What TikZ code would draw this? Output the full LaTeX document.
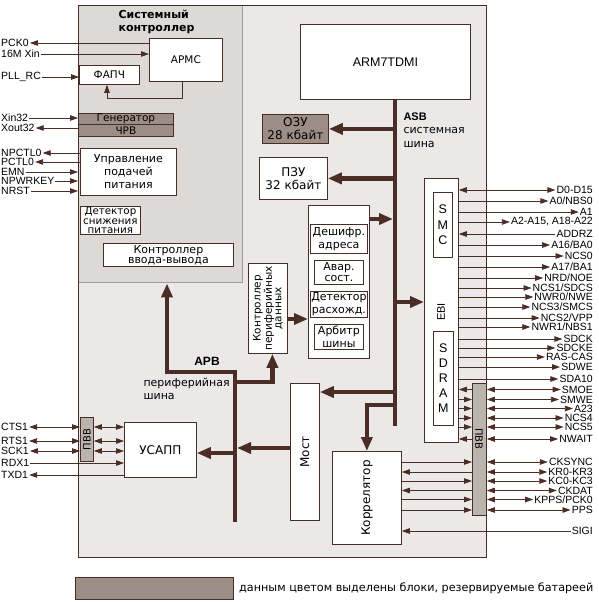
\documentclass[tikz,border=0pt]{standalone}
\usepackage{fontspec}
\setmainfont{Liberation Sans}
\newfontfamily\rufont{DejaVu Sans}
\usetikzlibrary{arrows.meta,positioning}
\definecolor{lnc}{HTML}{4A2E25}
\definecolor{chipc}{HTML}{EBE8E8}
\definecolor{sysc}{HTML}{DDD9D7}
\definecolor{sysb}{HTML}{A39C99}
\definecolor{batc}{HTML}{9C8E85}
\definecolor{pvvc}{HTML}{BBB3AE}

\tikzset{
  blk/.style={draw=lnc, fill=white, line width=0.8pt, inner sep=0pt, align=center,
    anchor=north west, font=\rufont\fontsize{11}{13}\selectfont},
  bat/.style={blk, fill=batc},
  wh/.style 2 args={minimum width=#1pt, minimum height=#2pt},
  sig/.style={draw=lnc, line width=0.8pt},
  bus/.style={draw=lnc, line width=4.5pt},
  pinlbl/.style={inner sep=1pt, font=\fontsize{10.5}{11}\selectfont},
  sigtip/.tip={Triangle[length=8pt,width=5.5pt]},
  bustip/.tip={Triangle[length=14pt,width=11pt]},
  sgout/.style={-{sigtip}},
  sgin/.style={{sigtip}-},
  sgbi/.style={{sigtip}-{sigtip}},
}

\begin{document}
\begin{tikzpicture}[x=1pt, y=-1pt]
    \useasboundingbox (0,0) rectangle (599,602);

    % chip and system controller
    \node[blk, fill=chipc, wh={408}{552}] (chip) at (78,5) {};
    \node[blk, fill=sysc, draw=sysb, line width=1.4pt, wh={164}{277}] (sys) at (78,5) {};
    \draw[lnc, line width=0.8pt] (chip.north west) rectangle (chip.south east);
    \node[anchor=west, align=left, font=\rufont\bfseries\fontsize{11}{13}\selectfont] (systit) at (115,22) {Системный\\контроллер};

    \node[blk, wh={73}{43}, font=\rufont\fontsize{10.5}{12}\selectfont] (armc) at (149,38) {АРМС};
    \node[blk, wh={60}{19}, font=\rufont\fontsize{10.5}{12}\selectfont] (pll) at (79,65) {ФАПЧ};
    \node[bat, wh={95}{11}, font=\rufont\fontsize{10.5}{11}\selectfont] (gen) at (78,113) {Генератор};
    \node[bat, wh={95}{12}, font=\rufont\fontsize{10.5}{11}\selectfont] (rtc) at (78,124) {ЧРВ};
    \node[blk, wh={96}{47}] (pwr) at (80,148) {Управление\\подачей\\питания};
    \node[blk, wh={60}{28}, font=\rufont\fontsize{10.3}{9.5}\selectfont] (bod) at (80,206) {Детектор\\снижения\\питания};
    \node[blk, wh={130}{23}, font=\rufont\fontsize{11}{10}\selectfont] (pio) at (103,243) {Контроллер\\ввода-вывода};

    % core, memories, bus control
    \node[blk, wh={170}{75}, font=\fontsize{12.5}{14}\selectfont] (arm) at (300,24) {ARM7TDMI};
    \node[bat, wh={66}{29}, font=\rufont\fontsize{12}{13}\selectfont] (ram) at (262,114) {ОЗУ\\28 кбайт};
    \node[blk, wh={68}{42}, font=\rufont\fontsize{12}{13}\selectfont] (rom) at (259,157) {ПЗУ\\32 кбайт};
    \node[blk, wh={61}{153}] (bic) at (308,205) {};
    \node[blk, wh={57}{29}] (dec) at (310,224) {Дешифр.\\адреса};
    \node[blk, wh={49}{24}, font=\rufont\fontsize{11}{11}\selectfont] (abt) at (314,260) {Авар.\\сост.};
    \node[blk, wh={57}{26}] (mis) at (310,291) {Детектор\\расхожд.};
    \node[blk, wh={49}{25}] (arb) at (314,324) {Арбитр\\шины};
    \node[blk, wh={39}{90}] (pdc) at (248,263) {};
    \node[rotate=90, align=center, font=\rufont\fontsize{10.5}{9.5}\selectfont] (pdct) at (pdc) {Контроллер\\периферийных\\данных};
    \node[blk, wh={29}{137}] (bridge) at (290,383) {};
    \node[rotate=90, font=\rufont\fontsize{12}{14}\selectfont] (bridget) at (bridge) {Мост};
    \node[blk, wh={69}{93}] (corr) at (332,451) {};
    \node[rotate=90, font=\rufont\fontsize{12}{14}\selectfont] (corrt) at (corr) {Коррелятор};
    \node[blk, wh={72}{55}, font=\rufont\fontsize{12}{14}\selectfont] (usart) at (124,422) {УСАПП};

    % external bus interface
    \node[blk, wh={34}{264}] (ebi) at (424,178) {};
    \node[blk, wh={19}{65}, font=\fontsize{12.5}{15.5}\selectfont] (smc) at (433,192) {S\\M\\C};
    \node[rotate=90, font=\fontsize{11}{12}\selectfont] (ebit) at (441,312) {EBI};
    \node[blk, wh={20}{94}, font=\fontsize{12.5}{15}\selectfont] (sdram) at (433,331) {S\\D\\R\\A\\M};

    % I/O line strips
    \node[blk, fill=pvvc, wh={13}{44}] (pvvl) at (80,417) {};
    \node[rotate=90, font=\rufont\fontsize{10}{11}\selectfont] (pvvlt) at (pvvl) {ПВВ};
    \node[blk, fill=pvvc, wh={14}{132}] (pvvr) at (472,383) {};
    \node[rotate=-90, font=\rufont\fontsize{10}{11}\selectfont] (pvvrt) at (479,439) {ПВВ};

    % buses
    \coordinate (asbend) at (395,426);
    \coordinate (apbtop) at (235,372);
    \coordinate (apbend) at (235,522);
    \draw[bus] (arm.south -| asbend) -- (asbend);
    \draw[bus, -{bustip}] (asbend |- ram.east) -- (ram.east);
    \draw[bus, -{bustip}] (asbend |- rom.east) -- (rom.east);
    \draw[bus, -{bustip}] (bic.east |- 0,219) -- ([xshift=-2pt]asbend |- 0,219);
    \draw[bus, -{bustip}] (asbend |- 0,302) -- (ebi.west |- 0,302);
    \draw[bus, -{bustip}] (asbend |- 0,392) -- (bridge.east |- 0,392);
    \draw[bus, -{bustip}] (asbend |- 0,405) -| (corr.north);
    \draw[bus, -{bustip}] (pdc.east |- 0,319) -- (bic.west |- 0,319);
    \draw[bus, -{bustip}] (apbend) -- (apbtop) -| (sys.south -| 167,0);
    \draw[bus, -{bustip}] (apbtop |- 0,382) -| ([xshift=4.5pt]pdc.south);
    \draw[bus, -{bustip}] (apbtop |- 0,453) -- (usart.east |- 0,453);
    \draw[bus, -{bustip}] (bridge.west |- 0,448) -- ([xshift=2pt]apbtop |- 0,448);

    \node[anchor=west, align=left, font=\rufont\fontsize{11}{13.5}\selectfont] (asbl) at (400,130)
        {\fontspec{Liberation Sans}\bfseries ASB\\системная\\шина};
    \node[font=\bfseries\fontsize{12}{14}\selectfont] (apbl) at (207,361) {APB};
    \node[anchor=west, align=left, font=\rufont\fontsize{11}{13}\selectfont] (apbt) at (140,388.5) {периферийная\\шина};

    % left pins
    \foreach \y/\n/\t in {43/pck/PCK0, 54/xin/16M Xin, 77/pllrc/PLL\_RC, 118/xin32/Xin32,
        128/xout32/Xout32, 153/npctl/NPCTL0, 162/pctl/PCTL0, 172/emn/EMN, 181/npwr/NPWRKEY,
        191/nrst/NRST, 427/cts/CTS1, 441/rts/RTS1, 451/sck/SCK1, 463/rdx/RDX1, 475/txd/TXD1}
        \node[pinlbl, anchor=west] (\n) at (0,\y) {\t};

    \draw[sig, -{sigtip}] (armc.west |- pck) -- (pck.east);
    \draw[sig, -{sigtip}] (xin.east) -- (armc.west |- xin);
    \draw[sig, -{sigtip}] (pllrc.east) -- (pll.west |- pllrc);
    \draw[sig, -{sigtip}] (armc.south -| 182,0) |- (107,98) -- (pll.south -| 107,0);
    \draw[sig, -{sigtip}] (xin32.east) -- (gen.west |- xin32);
    \draw[sig, -{sigtip}] (rtc.west |- xout32) -- (xout32.east);
    \draw[sig, -{sigtip}] (pwr.west |- npctl) -- (npctl.east);
    \draw[sig, -{sigtip}] (pwr.west |- pctl) -- (pctl.east);
    \foreach \n in {emn,npwr,nrst}
        \draw[sig, -{sigtip}] (\n.east) -- (sys.west |- \n);
    \foreach \n in {cts,rts,sck} {
        \draw[sig, sgbi] (\n.east) -- (pvvl.west |- \n);
        \draw[sig, sgbi] (pvvl.east |- \n) -- (usart.west |- \n);
    }
    \draw[sig, -{sigtip}] (rdx.east) -- (usart.west |- rdx);
    \draw[sig, -{sigtip}] (usart.west |- txd) -- (txd.east);

    % right pins
    \foreach \y/\n/\t/\a in {190/rd0/D0-D15/sgbi, 201/ra0/{A0/NBS0}/sgout, 212/ra1/A1/sgout,
        222/ra2/{A2-A15, A18-A22}/sgout, 234/raz/ADDRZ/sgin, 245/ra16/{A16/BA0}/sgout,
        256/rcs0/NCS0/sgout, 267/ra17/{A17/BA1}/sgout, 278/rnrd/{NRD/NOE}/sgout,
        288/rcs1/{NCS1/SDCS}/sgout, 297/rnwr0/{NWR0/NWE}/sgout, 307/rcs3/{NCS3/SMCS}/sgout,
        318/rcs2/{NCS2/VPP}/sgout, 327/rnwr1/{NWR1/NBS1}/sgout, 339/rsdck/SDCK/sgout,
        348/rsdcke/SDCKE/sgout, 357/rras/RAS-CAS/sgout, 367/rsdwe/SDWE/sgout,
        379/rsda/SDA10/sgout} {
        \node[pinlbl, anchor=east] (\n) at (594,\y) {\t};
        \draw[sig, \a] (ebi.east |- \n) -- (\n.west);
    }
    \foreach \y/\n/\t/\a in {389.5/rsmoe/SMOE/sgin, 399.5/rsmwe/SMWE/sgout, 408.5/ra23/A23/sgout,
        418/rcs4/NCS4/sgout, 427/rcs5/NCS5/sgout, 439/rnwait/NWAIT/sgin} {
        \node[pinlbl, anchor=east] (\n) at (594,\y) {\t};
        \draw[sig, \a] (ebi.east |- \n) -- (pvvr.west |- \n);
        \draw[sig, sgbi] (pvvr.east |- \n) -- (\n.west);
    }
    \foreach \y/\n/\t/\a in {462/rcks/CKSYNC/sgout, 472/rkr/KR0-KR3/sgin, 481/rkc/KC0-KC3/sgout,
        490.5/rckd/CKDAT/sgin, 499.5/rkpps/{KPPS/PCK0}/sgout, 510/rpps/PPS/sgout} {
        \node[pinlbl, anchor=east] (\n) at (594,\y) {\t};
        \draw[sig, \a] (corr.east |- \n) -- (pvvr.west |- \n);
        \draw[sig, sgbi] (pvvr.east |- \n) -- (\n.west);
    }
    \node[pinlbl, anchor=east] (rsigi) at (594,531) {SIGI};
    \draw[sig, sgin] (corr.east |- rsigi) -- (rsigi.west);

    % legend
    \node[bat, wh={158}{22}] (leg) at (75,577) {};
    \node[anchor=west, inner sep=0pt, font=\rufont\fontsize{11.2}{12}\selectfont] (legt) at (239,588)
        {данным цветом выделены блоки, резервируемые батареей};
\end{tikzpicture}
\end{document}
